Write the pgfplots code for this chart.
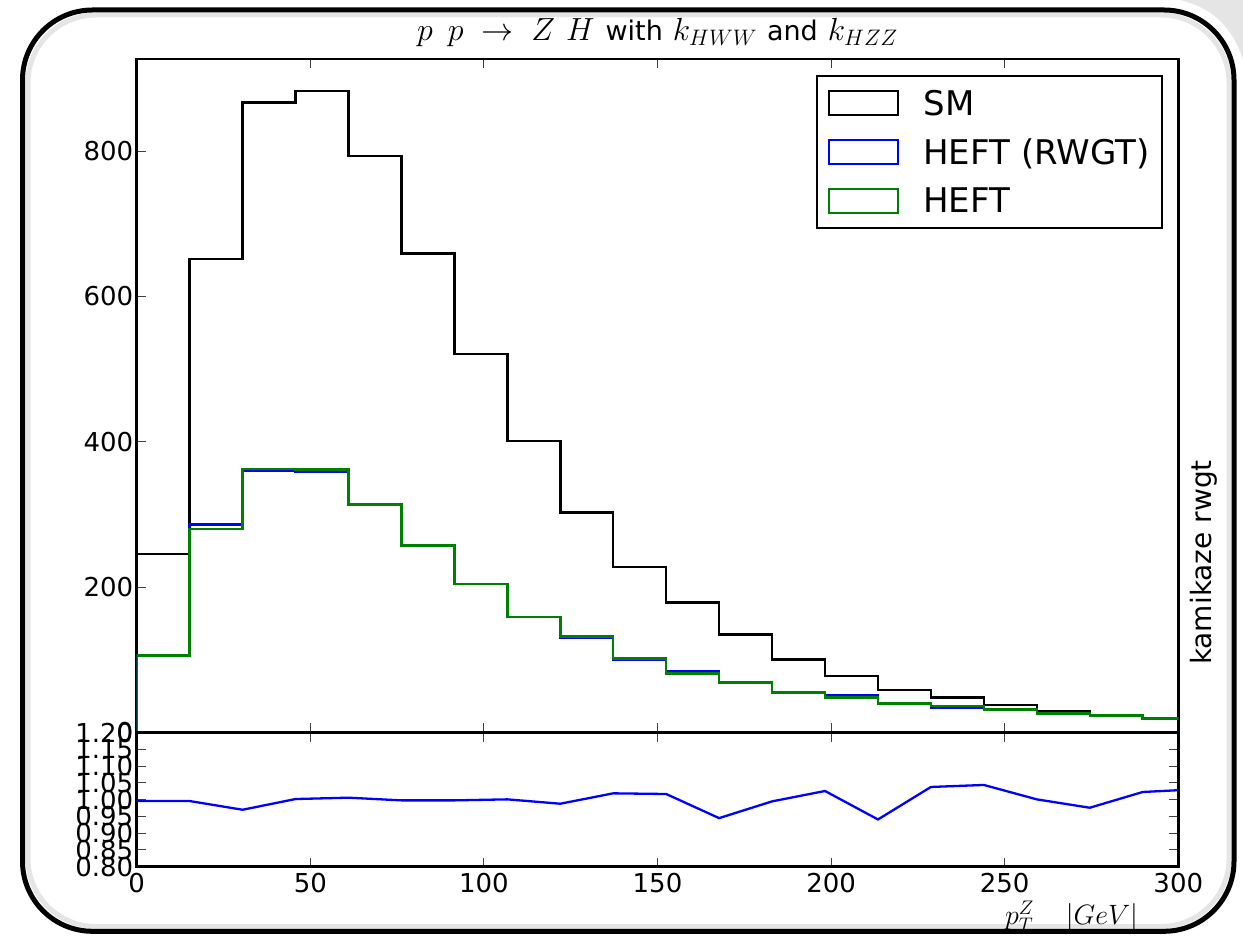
\RequirePackage{fix-cm}
\documentclass[border=0pt]{standalone}
\usepackage{fontspec}
\setmainfont{DejaVu Sans}
\usepackage{pgfplots}
\usepackage{pgfplotstable}
\pgfplotsset{compat=1.18}

\pgfplotstableread{
x sm rw heft
0 0 0 0
0 245.4 106.0 106.0
15.25 651.5 286.3 279.8
30.5 866.6 360.1 362.4
45.75 882.7 358.3 362.0
61 793.2 313.8 313.8
76.25 658.8 256.9 256.9
91.5 520.7 204.1 204.1
106.75 401.0 158.7 158.7
122 302.8 130.2 131.6
137.25 227.5 100.5 101.5
152.5 178.9 84.4 81.2
167.75 134.9 68.3 68.3
183 100.0 54.1 55.0
198.25 77.5 50.4 47.7
213.5 58.2 39.0 39.9
228.75 47.6 33.9 36.2
244 37.6 31.4 31.6
259.25 29.3 26.1 26.1
274.5 23.8 23.4 23.4
289.75 19.3 18.8 18.8
305 19.3 18.8 18.8
}\histdata

\pgfplotstableread{
x r
0 0.996
15.25 0.996
30.5 0.970
45.75 1.002
61 1.006
76.25 0.998
91.5 0.998
106.75 1.001
122 0.988
137.25 1.019
152.5 1.017
167.75 0.945
183 0.995
198.25 1.026
213.5 0.941
228.75 1.038
244 1.044
259.25 1.001
274.5 0.976
289.75 1.023
305 1.031
}\ratiodata

\definecolor{mplgreen}{rgb}{0,0.5,0}
\newcommand{\mth}[1]{{\fontsize{32}{36}\selectfont$#1$}}

\begin{document}
\begin{tikzpicture}[x=1pt,y=1pt]
\useasboundingbox (0,0) rectangle (1243,935);
% soft shadow at top right
\fill[black!10] (1180,935) .. controls (1210,928) and (1232,910) .. (1243,875) -- (1243,935) -- cycle;
% frame
\draw[black!10, line width=5pt, rounded corners=68pt] (28,8.5) rectangle (1229,920);
\draw[line width=5pt, rounded corners=70pt] (22.5,3.7) rectangle (1234,925);

\begin{axis}[
  scale only axis,
  width=1041.6pt, height=673.3pt,
  at={(136.7pt,202.7pt)}, anchor=south west,
  xmin=0, xmax=300, ymin=0, ymax=926.8,
  xtick={0,50,...,300}, xticklabels={},
  ytick={0,200,400,600,800},
  xtick pos=both, ytick pos=left, tick align=inside,
  major tick length=9pt,
  tick style={line width=1pt, black!75},
  axis line style={line width=2.5pt},
  ticklabel style={font=\fontsize{26}{30}\selectfont},
  /pgf/number format/assume math mode=true,
  title={\fontsize{27}{30}\selectfont \mth{p\hspace{15pt}p\hspace{9pt}\rightarrow\hspace{9pt}Z\hspace{11pt}H}\hspace{11pt}with\hspace{10pt}\mth{k_{HWW}}\hspace{10pt}and\hspace{10pt}\mth{k_{HZZ}}},
  title style={at={(0.5,1)}, anchor=base, yshift=12.5pt},
  legend image code/.code={\draw[#1, line width=2pt, fill=white] (0pt,-12pt) rectangle (69pt,12pt);},
  legend style={at={(1,1)}, anchor=north east, xshift=-15pt, yshift=-16pt,
    draw=black, line width=2pt, fill=white,
    font=\fontsize{34}{40}\selectfont,
    inner xsep=11pt, inner ysep=12pt, row sep=18pt,
    /tikz/every odd column/.append style={column sep=22pt}},
  legend cell align=left,
]
\addplot[const plot, black, line width=2.5pt] table[x=x, y=sm] {\histdata};
\addlegendentry{SM}
\addplot[const plot, blue, line width=2.5pt] table[x=x, y=rw] {\histdata};
\addlegendentry{HEFT (RWGT)}
\addplot[const plot, mplgreen, line width=2.5pt] table[x=x, y=heft] {\histdata};
\addlegendentry{HEFT}
\end{axis}

\begin{axis}[
  scale only axis,
  width=1041.6pt, height=134pt,
  at={(136.7pt,68.3pt)}, anchor=south west,
  xmin=0, xmax=300, ymin=0.8, ymax=1.2,
  xtick={0,50,...,300},
  ytick={0.80,0.85,0.90,0.95,1.00,1.05,1.10,1.15,1.20},
  yticklabel style={/pgf/number format/.cd, fixed, fixed zerofill, precision=2},
  xtick pos=both, ytick pos=both, tick align=inside,
  major tick length=9pt,
  tick style={line width=1pt, black!75},
  axis line style={line width=2.5pt},
  ticklabel style={font=\fontsize{26}{30}\selectfont},
  xticklabel style={yshift=-3pt},
  /pgf/number format/assume math mode=true,
]
\addplot[blue, line width=2.3pt] table[x=x, y=r] {\ratiodata};
\end{axis}

\node[font=\fontsize{28}{32}\selectfont, anchor=base] at (1071.5,10) {$p_T^Z\hspace{32pt}|GeV|$};
\node[font=\fontsize{28}{32}\selectfont, rotate=90, anchor=base] at (1211,372.5) {kamikaze rwgt};
\end{tikzpicture}
\end{document}
